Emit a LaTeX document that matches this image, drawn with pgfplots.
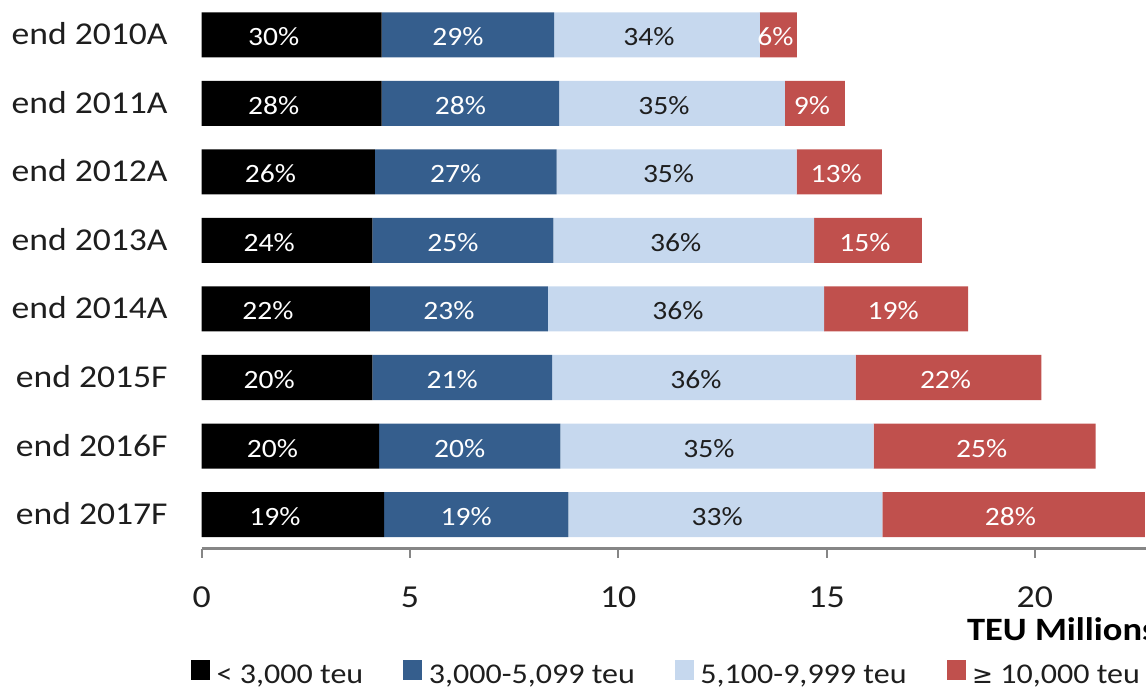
\documentclass[border=0pt]{standalone}
\usepackage{pgfplots}
\pgfplotsset{compat=1.18}
\usepackage{pgfplotstable}
\usepackage{fontspec}
\setmainfont{Carlito}[FakeStretch=1.12]
\definecolor{cBlue}{RGB}{53,94,141}
\definecolor{cLight}{RGB}{198,216,238}
\definecolor{cRed}{RGB}{192,80,77}
\definecolor{cAxis}{RGB}{134,134,134}
\definecolor{cText}{RGB}{30,30,30}

\pgfplotstableread{
y a b c d pa pb pc pd
0 4.32 4.14 4.94 0.89 30 29 34 6
1 4.32 4.26 5.42 1.44 28 28 35 9
2 4.16 4.36 5.76 2.05 26 27 35 13
3 4.10 4.34 6.26 2.59 24 25 36 15
4 4.04 4.27 6.63 3.46 22 23 36 19
5 4.10 4.31 7.29 4.46 20 21 36 22
6 4.26 4.35 7.52 5.33 20 20 35 25
7 4.38 4.42 7.54 6.30 19 19 33 28
}\datatable

\begin{document}
\begin{tikzpicture}
\begin{axis}[
  at={(0,0)}, anchor=south west,
  scale only axis,
  width=472.15pt, height=274pt,
  xbar stacked, bar width=22.5pt,
  xmin=0, xmax=22.67,
  ymin=-0.5, ymax=7.5,
  y dir=reverse,
  axis x line*=bottom,
  axis y line*=left,
  y axis line style={draw=none},
  x axis line style={cAxis, line width=1.3pt},
  xtick={0,5,10,15,20},
  xtick align=outside,
  major tick length=4.5pt,
  xtick style={cAxis, line width=1pt},
  ytick={0,...,7},
  ytick style={draw=none},
  yticklabels={end 2010A,end 2011A,end 2012A,end 2013A,end 2014A,end 2015F,end 2016F,end 2017F},
  yticklabel style={anchor=base east, inner sep=0pt, xshift=-16.85pt, yshift=-5pt,
    font=\fontsize{15.9}{18}\selectfont, text=cText},
  xticklabel style={anchor=base, inner sep=0pt, yshift=-25pt,
    font=\fontsize{16}{18}\selectfont, text=cText},
  /pgf/number format/assume math mode=true,
  xlabel={\textbf{TEU Millions}},
  xlabel style={at={(axis description cs:0.8101,0)}, anchor=base west, inner sep=0pt,
    yshift=-45.8pt, font=\fontsize{16.3}{18}\selectfont, text=black},
  point meta=explicit symbolic,
  nodes near coords={\pgfplotspointmeta\%},
  every node near coord/.append style={anchor=base, inner sep=0pt, yshift=-5.5pt,
    font=\fontsize{13.2}{15}\selectfont},
  legend columns=4,
  legend cell align=left,
  legend image code/.code={\fill[#1] (0pt,-1.9pt) rectangle (9.5pt,8.1pt);},
  legend style={draw=none, fill=none, inner sep=0pt,
    at={(axis description cs:-0.01165,-0.227)}, anchor=west,
    nodes={inner sep=0pt, font=\fontsize{14.3}{17}\selectfont, text=cText},
    /tikz/every odd column/.append style={column sep=3.3pt},
    /tikz/every even column/.append style={column sep=20pt}},
]
\addplot[fill=black, draw=none,
  every node near coord/.append style={text=white, xshift=-9pt}]
  table[x=a, y=y, meta=pa] {\datatable};
\addlegendentry{< 3,000 teu}
\addplot[fill=cBlue, draw=none,
  every node near coord/.append style={text=white, xshift=-5pt}]
  table[x=b, y=y, meta=pb] {\datatable};
\addlegendentry{3,000-5,099 teu}
\addplot[fill=cLight, draw=none,
  every node near coord/.append style={text=cText, xshift=-4pt}]
  table[x=c, y=y, meta=pc] {\datatable};
\addlegendentry{5,100-9,999 teu}
\addplot[fill=cRed, draw=none,
  every node near coord/.append style={text=white, xshift=-1.5pt}]
  table[x=d, y=y, meta=pd] {\datatable};
\addlegendentry{\fontspec{DejaVu Sans}\fontsize{12.5}{15}\selectfont ≥\normalfont\fontsize{14.3}{17}\selectfont{} 10,000 teu}
\end{axis}
\pgfresetboundingbox
\path[use as bounding box] (-100.85pt,274.375pt) rectangle (472.15pt,-70.125pt);
\end{tikzpicture}
\end{document}
